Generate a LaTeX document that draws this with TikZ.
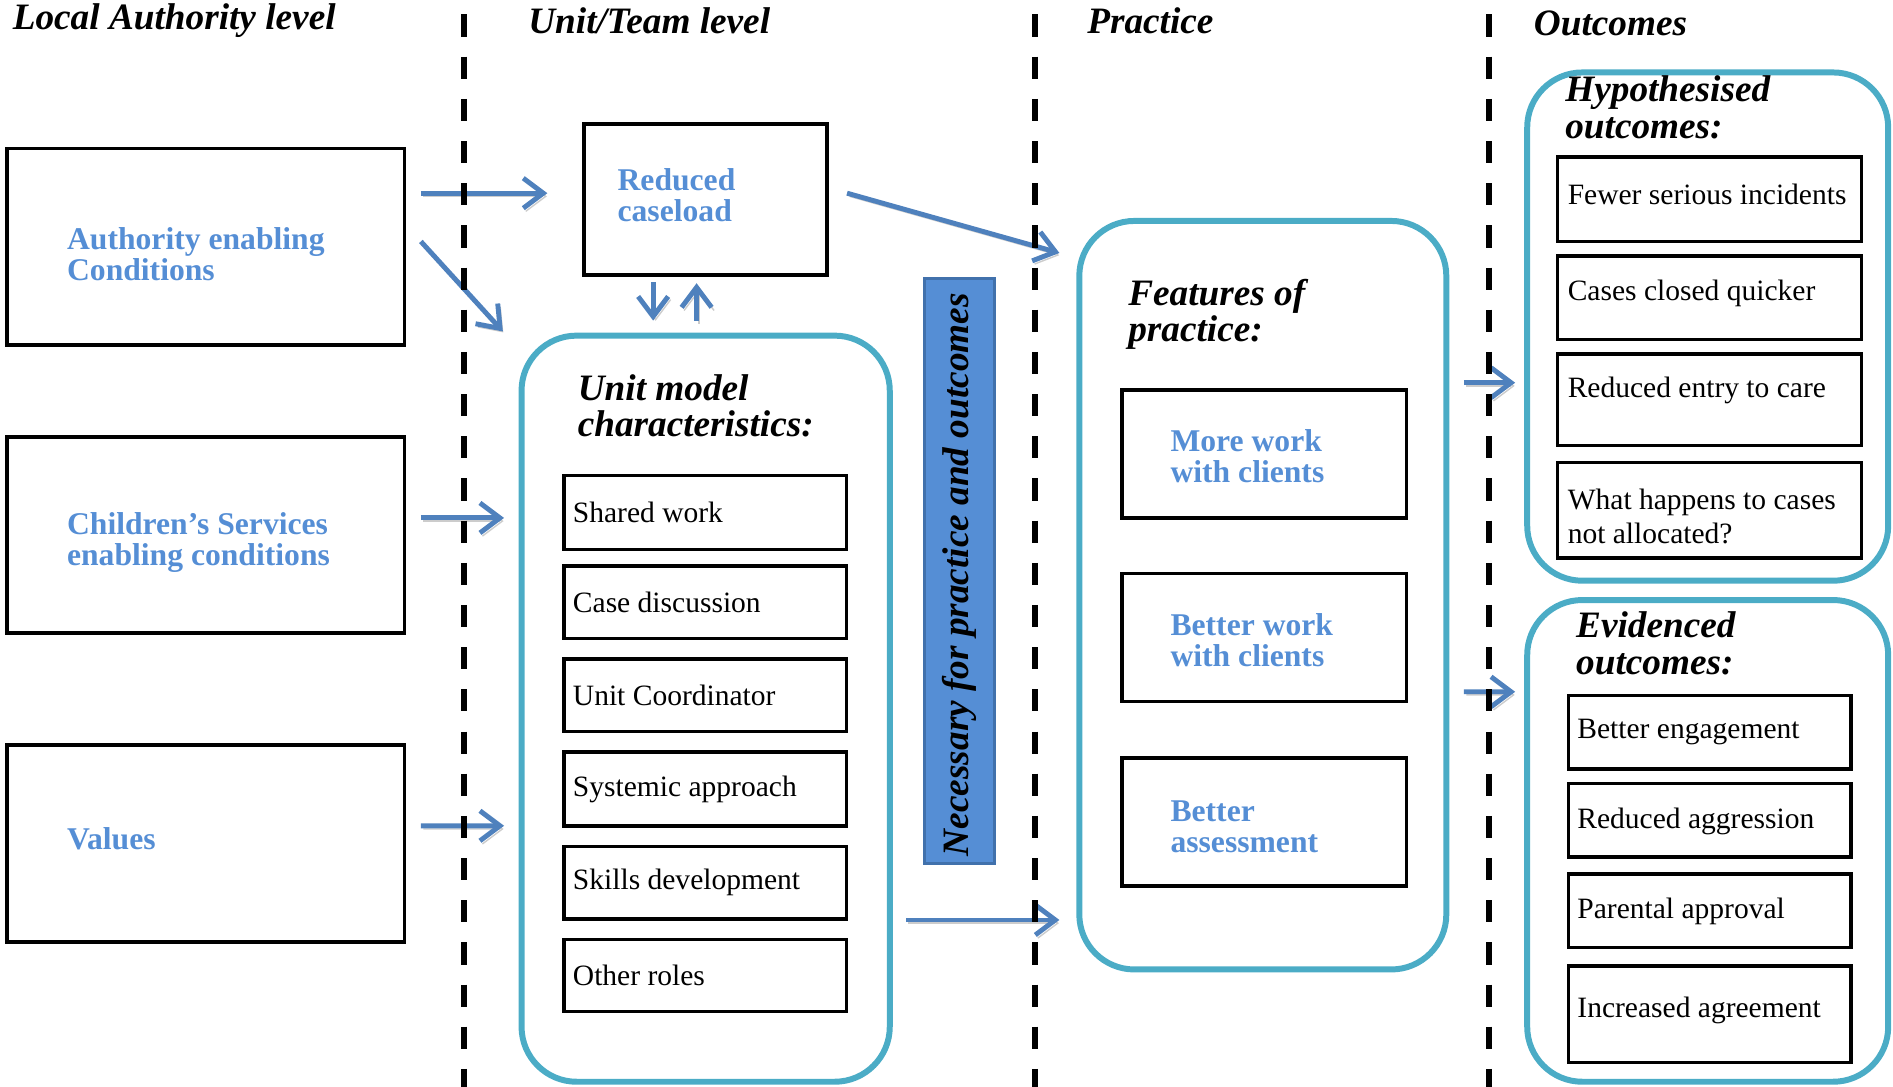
\documentclass[tikz,border=0pt]{standalone}
\usepackage{fontspec}
\setmainfont{Liberation Serif}
\usepackage{tikz}
\usetikzlibrary{positioning}
\usetikzlibrary{arrows.meta,calc,fit,shapes.misc}
\usepackage{xcolor}
\definecolor{txtblue}{RGB}{85,142,213}
\definecolor{arrblue}{RGB}{79,129,189}
\definecolor{panelcyan}{RGB}{75,172,198}
\definecolor{barblue}{RGB}{85,142,213}
\definecolor{barline}{RGB}{65,113,172}
\newcommand*{\bodyFont}{\fontsize{8.4}{9.6}\selectfont}
\newcommand*{\blueFont}{\fontsize{9}{8.8}\selectfont\bfseries}
\newcommand*{\headFont}{\fontsize{10.6}{10.4}\selectfont\bfseries\itshape}

\begin{document}
\begin{tikzpicture}[x=0.12073mm,y=-0.12073mm,
	box/.style={rectangle,draw=black,line width=1.1pt,inner sep=0pt},
	itembox/.style={rectangle,draw=black,line width=1pt,inner sep=0pt},
	panel/.style={rectangle,draw=panelcyan,line width=1.7pt,rounded corners=5.5mm,inner sep=0pt},
	barbox/.style={rectangle,fill=barblue,draw=barline,line width=0.8pt,inner sep=0pt},
	bluetxt/.style={font=\blueFont,text=txtblue,align=left,inner sep=0pt,anchor=west},
	bodytxt/.style={font=\bodyFont,align=left,inner sep=0pt,anchor=west},
	headtxt/.style={font=\headFont,align=left,inner sep=0pt,anchor=west},
	divider/.style={line width=1.7pt,dash pattern=on 6.3pt off 5.7pt},
	arr/.style={draw=arrblue,line width=1.4pt,-{Straight Barb[length=2mm,width=3mm]},
		preaction={draw=black!20,transform canvas={shift={(0.7pt,-0.9pt)}}}}]
	\useasboundingbox (0,0) rectangle (1568,900);
	% column heads
	\node[headtxt] (hLA) at (10,17) {Local Authority level};
	\node[headtxt] (hUT) at (437,17) {Unit/Team level};
	\node[headtxt] (hPr) at (900,17) {Practice};
	\node[headtxt] (hOu) at (1270,19) {Outcomes};
	% local authority level
	\node[box,fit={(6,123)(335,286)}] (auth) {};
	\node[bluetxt] (authT) at (55,210.5) {Authority enabling\\Conditions};
	\node[box,fit={(6,362)(335,524)}] (child) {};
	\node[bluetxt] (childT) at (55,449) {Children’s Services\\enabling conditions};
	\node[box,fit={(6,617)(335,780)}] (vals) {};
	\node[bluetxt] (valsT) at (55,695) {Values};
	% unit / team level
	\node[box,fit={(484,103)(685,228)}] (red) {};
	\node[bluetxt] (redT) at (511,161.5) {Reduced\\caseload};
	\node[panel,fit={(432,278)(737,896)}] (unit) {};
	\node[headtxt] (unitT) at (478,336) {Unit model\\characteristics:};
	\foreach \t/\ya/\yb [count=\i] in {Shared work/394/455,Case discussion/469/529,Unit Coordinator/546/606,Systemic approach/623/684,Skills development/701/761,Other roles/778/838}{
		\node[itembox,fit={(467,\ya)(701,\yb)}] (u\i) {};
		\node[bodytxt] (ut\i) at (474,{(\ya+\yb)/2}) {\t};
	}
	\node[barbox,fit={(766,231)(824,715)}] (bar) {};
	\node[font=\headFont,rotate=90,inner sep=0pt] (barT) at (795,476) {Necessary for practice and outcomes};
	% practice
	\node[panel,fit={(894,183)(1198,803)}] (feat) {};
	\node[headtxt] (featT) at (934,260.5) {Features of\\practice:};
	\foreach \t/\ya/\yb/\yt [count=\i] in {More work\\with clients/323/429/378,Better work\\with clients/475/581/530.5,Better\\assessment/628/734/684.5}{
		\node[box,fit={(929,\ya)(1165,\yb)}] (f\i) {};
		\node[bluetxt] (ft\i) at (969,\yt) {\t};
	}
	% outcomes
	\node[panel,fit={(1265,60)(1564,481)}] (hyp) {};
	\node[headtxt] (hypT) at (1296,89) {Hypothesised\\outcomes:};
	\foreach \t/\ya/\yb/\yt [count=\i] in {Fewer serious incidents/130/200/161,Cases closed quicker/212/281/243,Reduced entry to care/293/369/323,What happens to cases\\not allocated?/383/462/428}{
		\node[itembox,fit={(1290,\ya)(1542,\yb)}] (h\i) {};
		\node[bodytxt] (ht\i) at (1298,\yt) {\t};
	}
	\node[panel,fit={(1265,497)(1564,896)}] (evid) {};
	\node[headtxt] (evidT) at (1305,533) {Evidenced\\outcomes:};
	\foreach \t/\ya/\yb/\yt [count=\i] in {Better engagement/576/637/606,Reduced aggression/649/710/680,Parental approval/724/785/755,Increased agreement/800/880/837}{
		\node[itembox,fit={(1299,\ya)(1533,\yb)}] (e\i) {};
		\node[bodytxt] (et\i) at (1306,\yt) {\t};
	}
	% arrows
	\draw[arr] ([shift={(12,-44.5)}]auth.east) -- ([shift={(-29,-5.5)}]red.west);
	\draw[arr] ([shift={(12,-4.5)}]auth.east) -- ([shift={(-13,-1)}]unit.north west);
	\draw[arr] ([shift={(12,-14)}]child.east) -- ([shift={(-12,-158)}]unit.west);
	\draw[arr] ([shift={(12,-14.5)}]vals.east) -- ([shift={(-12,97)}]unit.west);
	\draw[arr] ([shift={(-43.5,4)}]red.south) -- ([shift={(-43.5,-10)}]unit.north);
	\draw[arr] ([shift={(-7.5,-10)}]unit.north) -- ([shift={(-7.5,5)}]red.south);
	\draw[arr] ([shift={(15,-5.5)}]red.east) -- ([shift={(-14,29)}]feat.north west);
	\draw[arr] ([shift={(11,175)}]unit.east) -- ([shift={(-14,269)}]feat.west);
	\draw[arr] ([shift={(12,-176)}]feat.east) -- ([shift={(-7.5,46.5)}]hyp.west);
	\draw[arr] ([shift={(12,80)}]feat.east) -- ([shift={(-7.5,-123.5)}]evid.west);
	% level dividers
	\foreach \x in {384,857,1233} \draw[divider] (\x,12) -- (\x,900);
\end{tikzpicture}
\end{document}
